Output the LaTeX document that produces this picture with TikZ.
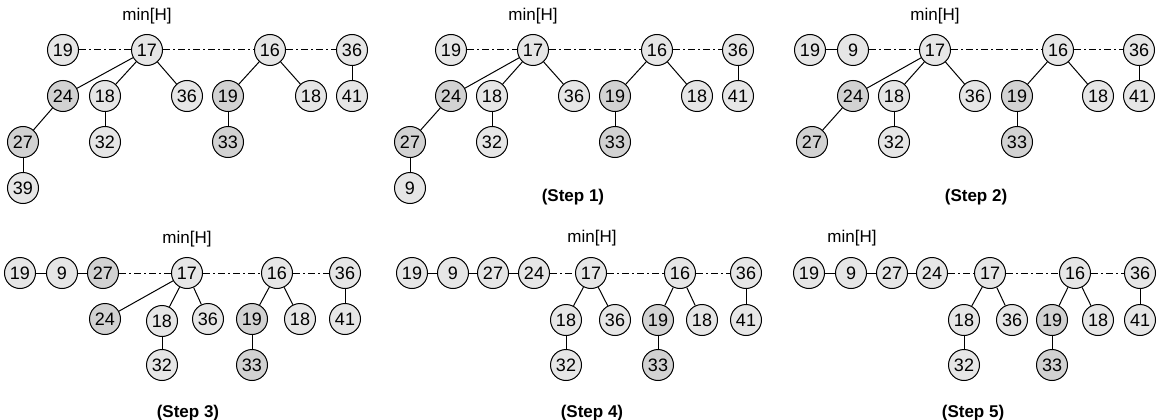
\documentclass[tikz,border=0pt]{standalone}
\usepackage{fontspec}
\setmainfont{Liberation Sans}
\usetikzlibrary{backgrounds}
\definecolor{lightfill}{HTML}{E6E6E6}
\definecolor{darkfill}{HTML}{D2D2D2}
\tikzset{
  hn/.style={circle,draw=black,line width=1pt,fill=lightfill,minimum size=31pt,inner sep=0pt,font=\fontsize{18}{20}\selectfont},
  hd/.style={hn,fill=darkfill},
  tree/.style={line width=1pt},
  rootl/.style={line width=1pt,dash pattern=on 7pt off 3pt on 2pt off 3pt},
  minlbl/.style={font=\fontsize{17}{19}\selectfont},
  steplbl/.style={font=\fontsize{17}{19}\selectfont\bfseries},
}
\begin{document}
\begin{tikzpicture}[x=1pt,y=-1pt]
\useasboundingbox (0,0) rectangle (1157,420);
% ---------- Panel A ----------
\node[minlbl] (aM) at (147,16) {min[H]};
\node[hn] (a19) at (63,50) {19};
\node[hn] (a17) at (147,50) {17};
\node[hn] (a16) at (270,50) {16};
\node[hn] (a36) at (352,50) {36};
\node[hd] (a24) at (63,96) {24};
\node[hn] (a18) at (105,96) {18};
\node[hn] (a36b) at (187,96) {36};
\node[hd] (a19b) at (228,96) {19};
\node[hn] (a18b) at (311,96) {18};
\node[hn] (a41) at (352,96) {41};
\node[hd] (a27) at (23,142) {27};
\node[hn] (a32) at (105,142) {32};
\node[hd] (a33) at (228,142) {33};
\node[hn] (a39) at (23,188) {39};
% ---------- Panel B ----------
\node[minlbl] (bM) at (533,16) {min[H]};
\node[hn] (b19) at (451,50) {19};
\node[hn] (b17) at (533,50) {17};
\node[hn] (b16) at (657,50) {16};
\node[hn] (b36) at (738,50) {36};
\node[hd] (b24) at (451,96) {24};
\node[hn] (b18) at (492,96) {18};
\node[hn] (b36b) at (574,96) {36};
\node[hd] (b19b) at (615,96) {19};
\node[hn] (b18b) at (697,96) {18};
\node[hn] (b41) at (738,96) {41};
\node[hd] (b27) at (410,142) {27};
\node[hn] (b32) at (492,142) {32};
\node[hd] (b33) at (615,142) {33};
\node[hn] (b9) at (410,188) {9};
\node[steplbl] (bS) at (573,197) {(Step 1)};
% ---------- Panel C ----------
\node[minlbl] (cM) at (935,16) {min[H]};
\node[hn] (c19) at (810,50) {19};
\node[hn] (c9) at (853,50) {9};
\node[hn] (c17) at (935,50) {17};
\node[hn] (c16) at (1058,50) {16};
\node[hn] (c36) at (1139,50) {36};
\node[hd] (c24) at (853,96) {24};
\node[hn] (c18) at (894,96) {18};
\node[hn] (c36b) at (975,96) {36};
\node[hd] (c19b) at (1017,96) {19};
\node[hn] (c18b) at (1098,96) {18};
\node[hn] (c41) at (1139,96) {41};
\node[hd] (c27) at (812,142) {27};
\node[hn] (c32) at (894,142) {32};
\node[hd] (c33) at (1017,142) {33};
\node[steplbl] (cS) at (976,197) {(Step 2)};
% ---------- Panel D ----------
\node[minlbl] (dM) at (187,239) {min[H]};
\node[hn] (d19) at (20,273) {19};
\node[hn] (d9) at (62,273) {9};
\node[hd] (d27) at (103,273) {27};
\node[hn] (d17) at (187,273) {17};
\node[hn] (d16) at (277,273) {16};
\node[hn] (d36) at (345,273) {36};
\node[hd] (d24) at (105,319) {24};
\node[hn] (d18) at (162,321) {18};
\node[hn] (d36b) at (208,319) {36};
\node[hd] (d19b) at (252,319) {19};
\node[hn] (d18b) at (300,319) {18};
\node[hn] (d41) at (345,319) {41};
\node[hn] (d32) at (162,365) {32};
\node[hd] (d33) at (252,365) {33};
\node[steplbl] (dS) at (188,413) {(Step 3)};
% ---------- Panel E ----------
\node[minlbl] (eM) at (592,238) {min[H]};
\node[hn] (e19) at (412,273) {19};
\node[hn] (e9) at (453,273) {9};
\node[hn] (e27) at (493,273) {27};
\node[hn] (e24) at (534,273) {24};
\node[hn] (e17) at (591,273) {17};
\node[hn] (e16) at (680,273) {16};
\node[hn] (e36) at (746,273) {36};
\node[hn] (e18) at (566,320) {18};
\node[hn] (e36b) at (615,320) {36};
\node[hd] (e19b) at (658,320) {19};
\node[hn] (e18b) at (702,320) {18};
\node[hn] (e41) at (746,320) {41};
\node[hn] (e32) at (566,365) {32};
\node[hd] (e33) at (658,365) {33};
\node[steplbl] (eS) at (592,413) {(Step 4)};
% ---------- Panel F ----------
\node[minlbl] (fM) at (852,238) {min[H]};
\node[hn] (f19) at (809,273) {19};
\node[hn] (f9) at (851,273) {9};
\node[hn] (f27) at (892,273) {27};
\node[hn] (f24) at (932,273) {24};
\node[hn] (f17) at (990,273) {17};
\node[hn] (f16) at (1075,273) {16};
\node[hn] (f36) at (1140,273) {36};
\node[hn] (f18) at (964,320) {18};
\node[hn] (f36b) at (1012,320) {36};
\node[hd] (f19b) at (1052,320) {19};
\node[hn] (f18b) at (1098,320) {18};
\node[hn] (f41) at (1140,320) {41};
\node[hn] (f32) at (964,365) {32};
\node[hd] (f33) at (1052,365) {33};
\node[steplbl] (fS) at (973,413) {(Step 5)};
% ---------- Edges ----------
\begin{scope}[on background layer]
% A
\draw[rootl] (a19) -- (a17) -- (a16) -- (a36);
\draw[tree] (a17) -- (a24); \draw[tree] (a17) -- (a18); \draw[tree] (a17) -- (a36b);
\draw[tree] (a24) -- (a27); \draw[tree] (a27) -- (a39); \draw[tree] (a18) -- (a32);
\draw[tree] (a16) -- (a19b); \draw[tree] (a16) -- (a18b); \draw[tree] (a19b) -- (a33);
\draw[tree] (a36) -- (a41);
% B
\draw[rootl] (b19) -- (b17) -- (b16) -- (b36);
\draw[tree] (b17) -- (b24); \draw[tree] (b17) -- (b18); \draw[tree] (b17) -- (b36b);
\draw[tree] (b24) -- (b27); \draw[tree] (b27) -- (b9); \draw[tree] (b18) -- (b32);
\draw[tree] (b16) -- (b19b); \draw[tree] (b16) -- (b18b); \draw[tree] (b19b) -- (b33);
\draw[tree] (b36) -- (b41);
% C
\draw[tree] (c19) -- (c9);
\draw[rootl] (c9) -- (c17) -- (c16) -- (c36);
\draw[tree] (c17) -- (c24); \draw[tree] (c17) -- (c18); \draw[tree] (c17) -- (c36b);
\draw[tree] (c24) -- (c27); \draw[tree] (c18) -- (c32);
\draw[tree] (c16) -- (c19b); \draw[tree] (c16) -- (c18b); \draw[tree] (c19b) -- (c33);
\draw[tree] (c36) -- (c41);
% D
\draw[tree] (d19) -- (d9) -- (d27);
\draw[rootl] (d27) -- (d17) -- (d16) -- (d36);
\draw[tree] (d17) -- (d24); \draw[tree] (d17) -- (d18); \draw[tree] (d17) -- (d36b);
\draw[tree] (d18) -- (d32);
\draw[tree] (d16) -- (d19b); \draw[tree] (d16) -- (d18b); \draw[tree] (d19b) -- (d33);
\draw[tree] (d36) -- (d41);
% E
\draw[tree] (e19) -- (e9) -- (e27) -- (e24);
\draw[rootl] (e24) -- (e17) -- (e16) -- (e36);
\draw[tree] (e17) -- (e18); \draw[tree] (e17) -- (e36b);
\draw[tree] (e18) -- (e32);
\draw[tree] (e16) -- (e19b); \draw[tree] (e16) -- (e18b); \draw[tree] (e19b) -- (e33);
\draw[tree] (e36) -- (e41);
% F
\draw[tree] (f19) -- (f9) -- (f27) -- (f24);
\draw[rootl] (f24) -- (f17) -- (f16) -- (f36);
\draw[tree] (f17) -- (f18); \draw[tree] (f17) -- (f36b);
\draw[tree] (f18) -- (f32);
\draw[tree] (f16) -- (f19b); \draw[tree] (f16) -- (f18b); \draw[tree] (f19b) -- (f33);
\draw[tree] (f36) -- (f41);
\end{scope}
\end{tikzpicture}
\end{document}
